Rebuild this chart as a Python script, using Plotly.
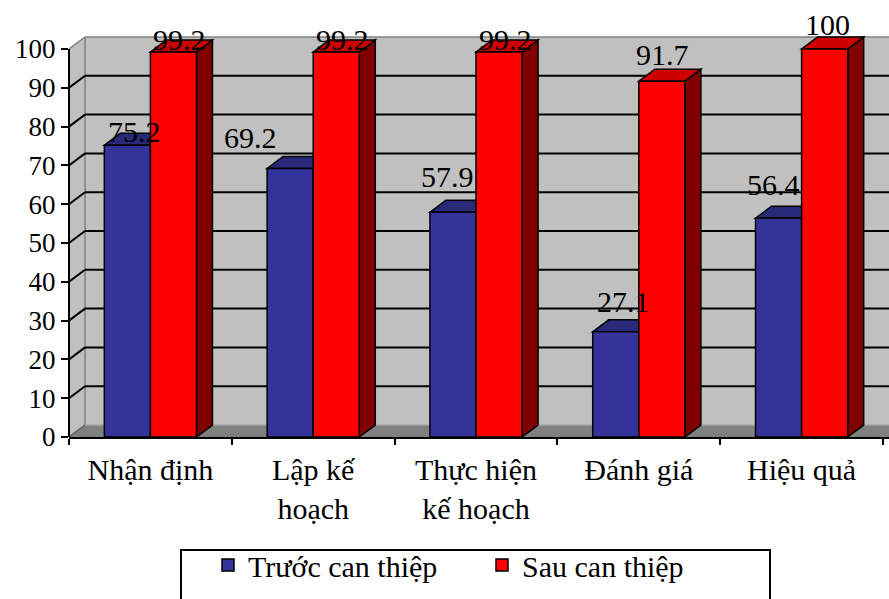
import plotly.graph_objects as go

# ---------------- data ----------------
categories = ["Nhận định", "Lập kế<br>hoạch", "Thực hiện<br>kế hoạch", "Đánh giá", "Hiệu quả"]
series_names = ["Trước can thiệp", "Sau can thiệp"]
truoc = [75.2, 69.2, 57.9, 27.1, 56.4]
sau = [99.2, 99.2, 99.2, 91.7, 100]
truoc_text = ["75.2", "69.2", "57.9", "27.1", "56.4"]
sau_text = ["99.2", "99.2", "99.2", "91.7", "100"]
y_ticks = [0, 10, 20, 30, 40, 50, 60, 70, 80, 90, 100]

# ---------------- layout / style ----------------
W, H = 889, 599
ML, MR, MT, MB = 69, 0, 30, 162
plot_w = W - ML - MR
plot_h = H - MT - MB
AX_LEFT_PX, AX_BOTTOM_PX = ML, H - MB   # plot-area corner in window pixels
PX_PER_CAT = 162.8
X0 = -0.5
X1 = X0 + plot_w / PX_PER_CAT
Y_TOP = 104.9
ky = plot_h / Y_TOP
DX = 16 / PX_PER_CAT      # depth offset (x units)
DY = 12 / ky              # depth offset (y units)
BAR_W = 0.283
XR = X1 + 1               # beyond right edge (clipped)

BLUE, BLUE_TOP, BLUE_SIDE = "#333399", "#29297A", "#1F1F5C"
RED, RED_TOP, RED_SIDE = "#FF0000", "#CC0000", "#800000"
WALL, FLOOR, EDGE = "#C0C0C0", "#808080", "#808080"
FONT = "Liberation Serif, Times New Roman, serif"

# per-label pixel nudges (as placed in the original chart)
truoc_lab_dx = [7.5, -40, -5, 8, -5]
truoc_lab_dy = [14, 31, 36, 30, 34]
sau_lab_dx = [6, 6, 6, 1, 3]
sau_lab_dy = [13, 13, 13, 27, 25]

idx = list(range(len(categories)))


def poly(pts, fill, lc="black", lw=1.5):
    path = "M " + " L ".join(f"{x:.5f},{y:.5f}" for x, y in pts) + " Z"
    return dict(type="path", path=path, xref="x", yref="y", fillcolor=fill,
                line=dict(color=lc, width=lw), layer="below")


def seg(x0, y0, x1, y1, color, width):
    return dict(type="line", x0=x0, y0=y0, x1=x1, y1=y1, xref="x", yref="y",
                line=dict(color=color, width=width), layer="below")


shapes = []
# back wall, left wall, floor
shapes.append(poly([(X0 + DX, DY), (XR, DY), (XR, 100 + DY), (X0 + DX, 100 + DY)], WALL, lw=0))
shapes.append(poly([(X0, 0), (X0 + DX, DY), (X0 + DX, 100 + DY), (X0, 100)], WALL, lw=0))
shapes.append(poly([(X0, 0), (XR, 0), (XR, DY), (X0 + DX, DY)], FLOOR, lw=0))
# wall edges
shapes.append(seg(X0 + DX, 100 + DY, XR, 100 + DY, EDGE, 1.5))
shapes.append(seg(X0, 100, X0 + DX, 100 + DY, EDGE, 1.5))
shapes.append(seg(X0 + DX, DY, X0 + DX, 100 + DY, EDGE, 1.5))
shapes.append(seg(X0, 0, X0 + DX, DY, "#606060", 1.5))
shapes.append(seg(X0 + DX, DY, XR, DY, "#A8A8A8", 1.5))
# gridlines
for v in y_ticks[1:-1]:
    shapes.append(seg(X0 + DX, v + DY, XR, v + DY, "black", 2))
    shapes.append(seg(X0, v, X0 + DX, v + DY, "black", 2))
# 3D faces of the bars (front faces are the bar traces)
for i in idx:
    b, r = truoc[i], sau[i]
    xb0, xb1 = i - BAR_W, i
    xr0, xr1 = i, i + BAR_W
    shapes.append(poly([(xb1, 0), (xb1 + DX, DY), (xb1 + DX, b + DY), (xb1, b)], BLUE_SIDE))
    shapes.append(poly([(xb0, b), (xb1, b), (xb1 + DX, b + DY), (xb0 + DX, b + DY)], BLUE_TOP))
    shapes.append(poly([(xr1, 0), (xr1 + DX, DY), (xr1 + DX, r + DY), (xr1, r)], RED_SIDE))
    shapes.append(poly([(xr0, r), (xr1, r), (xr1 + DX, r + DY), (xr0 + DX, r + DY)], RED_TOP))
# front value axis line
shapes.append(dict(type="line", xref="paper", yref="y", x0=0, x1=0, y0=0, y1=100,
                   line=dict(color="black", width=2), layer="above"))
# legend frame (window pixels -> paper)
px2x = lambda px: (px - AX_LEFT_PX) / plot_w
px2y = lambda py: (AX_BOTTOM_PX - py) / plot_h
shapes.append(dict(type="rect", xref="paper", yref="paper", x0=px2x(181), x1=px2x(770),
                   y0=px2y(615), y1=px2y(550), line=dict(color="black", width=2),
                   fillcolor="rgba(0,0,0,0)", layer="above"))

fig = go.Figure()
fig.add_trace(go.Bar(x=idx, y=truoc, name=series_names[0], width=BAR_W, offset=-BAR_W,
                     marker=dict(color=BLUE, line=dict(color="black", width=1.5))))
fig.add_trace(go.Bar(x=idx, y=sau, name=series_names[1], width=BAR_W, offset=0,
                     marker=dict(color=RED, line=dict(color="black", width=1.5))))

annotations = []
for i in idx:
    annotations.append(dict(x=i - BAR_W / 2, y=truoc[i], xref="x", yref="y", text=truoc_text[i],
                            showarrow=False, xshift=truoc_lab_dx[i], yshift=truoc_lab_dy[i],
                            font=dict(family=FONT, size=30, color="black"),
                            xanchor="center", yanchor="middle"))
    annotations.append(dict(x=i + BAR_W / 2, y=sau[i], xref="x", yref="y", text=sau_text[i],
                            showarrow=False, xshift=sau_lab_dx[i], yshift=sau_lab_dy[i],
                            font=dict(family=FONT, size=30, color="black"),
                            xanchor="center", yanchor="middle"))

fig.update_layout(
    width=W, height=H,
    margin=dict(l=ML, r=MR, t=MT, b=MB, autoexpand=False),
    paper_bgcolor="white", plot_bgcolor="white",
    barmode="overlay",
    shapes=shapes, annotations=annotations,
    font=dict(family=FONT, color="black"),
    showlegend=True,
    legend=dict(orientation="h", x=px2x(208), xanchor="left", y=px2y(539), yanchor="top",
                font=dict(family=FONT, size=30, color="black"), entrywidth=229,
                bgcolor="rgba(0,0,0,0)", borderwidth=0, traceorder="normal"),
)
fig.update_xaxes(range=[X0, X1], tickmode="array", tickvals=idx, ticktext=categories,
                 ticks="", showgrid=False, zeroline=False, showline=True,
                 linecolor="black", linewidth=2, ticklabelstandoff=5,
                 tickfont=dict(family=FONT, size=30, color="black"),
                 minor=dict(tickmode="array", tickvals=[X0 + k for k in range(6)],
                            ticks="outside", ticklen=6, tickwidth=2, tickcolor="black",
                            showgrid=False))
fig.update_yaxes(range=[0, Y_TOP], tickmode="array", tickvals=y_ticks,
                 ticks="outside", ticklen=7, tickwidth=2, tickcolor="black",
                 showgrid=False, zeroline=False, showline=False,
                 tickfont=dict(family=FONT, size=27, color="black"))

# remove the page's default body margin so the 889x599 figure fills the window exactly
fig.write_html("out.html", config={"displayModeBar": False},
               post_script="document.body.style.margin='0';document.body.style.overflow='hidden';")
